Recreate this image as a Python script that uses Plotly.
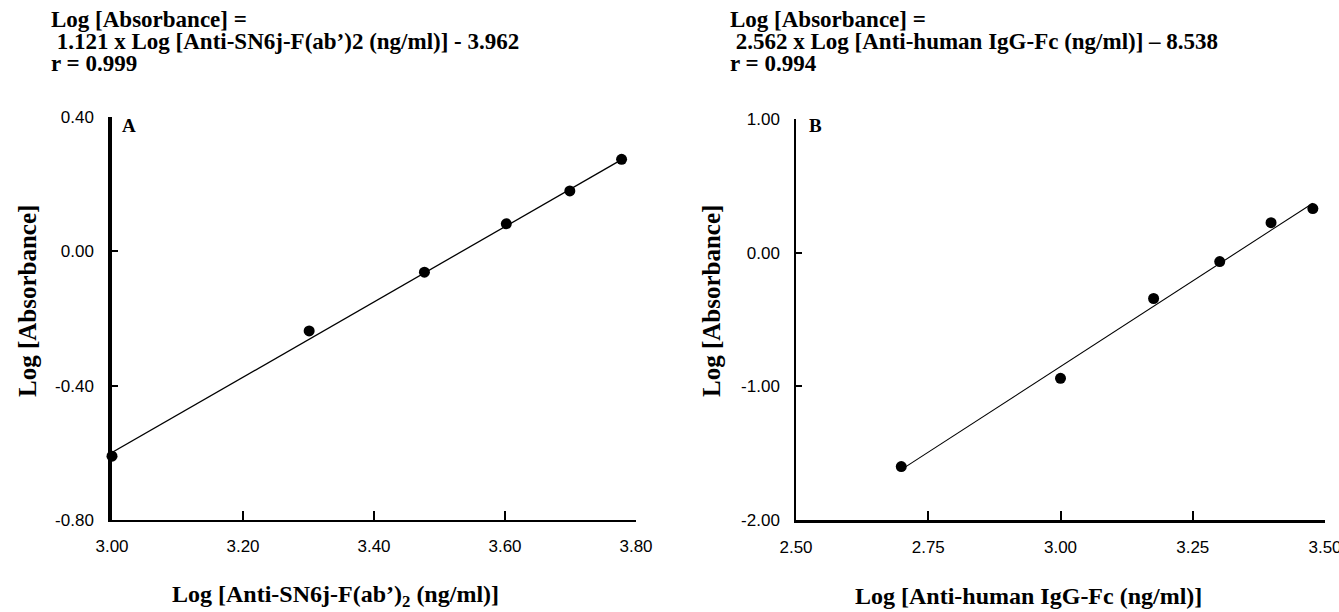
import plotly.graph_objects as go

# ---------------- data ----------------
a_x = [3.000, 3.301, 3.477, 3.602, 3.699, 3.778]
a_y = [-0.61, -0.237, -0.062, 0.082, 0.180, 0.274]
a_slope, a_intercept = 1.121, -3.962

b_x = [2.699, 3.000, 3.176, 3.301, 3.398, 3.477]
b_y = [-1.60, -0.94, -0.343, -0.067, 0.224, 0.33]
b_slope, b_intercept = 2.562, -8.538

a_ticks_x = [3.00, 3.20, 3.40, 3.60, 3.80]
a_ticks_y = [-0.80, -0.40, 0.00, 0.40]
b_ticks_x = [2.50, 2.75, 3.00, 3.25, 3.50]
b_ticks_y = [-2.00, -1.00, 0.00, 1.00]

a_title = ["Log [Absorbance] =",
           " 1.121 x Log [Anti-SN6j-F(ab\u2019)2 (ng/ml)] - 3.962",
           "r = 0.999"]
b_title = ["Log [Absorbance] =",
           " 2.562 x Log [Anti-human IgG-Fc (ng/ml)] \u2013 8.538",
           "r = 0.994"]
a_xlabel = "Log [Anti-SN6j-F(ab\u2019)<sub>2</sub> (ng/ml)]"
b_xlabel = "Log [Anti-human IgG-Fc (ng/ml)]"
ylabel = "Log [Absorbance]"

W, H = 1339, 612
SERIF = "Liberation Serif, Times New Roman, serif"
TICKF = "Liberation Sans Narrow, Arial Narrow, Liberation Sans, sans-serif"

def fx(px):
    return px / W

def fy(py):
    return 1 - py / H

fig = go.Figure()

def fit_line(xs, slope, intercept):
    x0, x1 = min(xs), max(xs)
    return [x0, x1], [slope * x0 + intercept, slope * x1 + intercept]

lx, ly = fit_line(a_x, a_slope, a_intercept)
fig.add_trace(go.Scatter(x=lx, y=ly, mode="lines", line=dict(color="black", width=1.3),
                         xaxis="x", yaxis="y", showlegend=False, hoverinfo="skip"))
fig.add_trace(go.Scatter(x=a_x, y=a_y, mode="markers", marker=dict(color="black", size=11),
                         xaxis="x", yaxis="y", showlegend=False, cliponaxis=False))

lx, ly = fit_line(b_x, b_slope, b_intercept)
fig.add_trace(go.Scatter(x=lx, y=ly, mode="lines", line=dict(color="black", width=1.1),
                         xaxis="x2", yaxis="y2", showlegend=False, hoverinfo="skip"))
fig.add_trace(go.Scatter(x=b_x, y=b_y, mode="markers", marker=dict(color="black", size=11),
                         xaxis="x2", yaxis="y2", showlegend=False, cliponaxis=False))

tickfont = dict(family=TICKF, size=17, color="black")

def xaxis(dom, anchor, rng, ticks, width):
    return dict(domain=dom, anchor=anchor, range=rng, tickvals=ticks,
                ticktext=[f"{t:.2f}" for t in ticks], showgrid=False, zeroline=False,
                showline=True, linecolor="black", linewidth=width, ticks="inside",
                ticklen=9, tickwidth=2, tickcolor="black", tickfont=tickfont,
                ticklabelstandoff=10, ticklabeloverflow="allow",
                fixedrange=True, automargin=False)

def yaxis(dom, anchor, rng, ticks, width):
    return dict(domain=dom, anchor=anchor, range=rng, tickvals=ticks,
                ticktext=[f"{t:.2f}" for t in ticks], showgrid=False, zeroline=False,
                showline=True, linecolor="black", linewidth=width, ticks="inside",
                ticklen=6, tickwidth=2, tickcolor="black", tickfont=tickfont,
                ticklabelstandoff=11, ticklabeloverflow="allow",
                fixedrange=True, automargin=False)

fig.update_layout(
    width=W, height=H,
    margin=dict(l=0, r=0, t=0, b=0, pad=0, autoexpand=False),
    paper_bgcolor="white", plot_bgcolor="white",
    xaxis=xaxis([fx(112), fx(636)], "y", [3.0, 3.8], a_ticks_x, 2),
    yaxis=yaxis([fy(520), fy(117)], "x", [-0.8, 0.4], a_ticks_y, 3.5),
    xaxis2=xaxis([fx(796), fx(1325)], "y2", [2.5, 3.5], b_ticks_x, 2.5),
    yaxis2=yaxis([fy(520), fy(119)], "x2", [-2.0, 1.0], b_ticks_y, 1.5),
)

TF = dict(family=SERIF, size=23, color="black", weight="bold")
XF = dict(family=SERIF, size=24, color="black", weight="bold")
YF = dict(family=SERIF, size=25, color="black", weight="bold")
anns = []
for i, t in enumerate(a_title):
    anns.append(dict(text=t, x=fx(49), y=fy(19 + 22.5 * i), xref="paper", yref="paper",
                     xanchor="left", yanchor="middle", showarrow=False, font=TF))
for i, t in enumerate(b_title):
    anns.append(dict(text=t, x=fx(728), y=fy(19 + 22.5 * i), xref="paper", yref="paper",
                     xanchor="left", yanchor="middle", showarrow=False, font=TF))
for lab, xc in [(a_xlabel, 335), (b_xlabel, 1028)]:
    anns.append(dict(text=lab, x=fx(xc), y=fy(596), xref="paper", yref="paper",
                     xanchor="center", yanchor="middle", showarrow=False, font=XF))
for xc in [27, 711]:
    anns.append(dict(text=ylabel, x=fx(xc), y=fy(301), xref="paper", yref="paper",
                     xanchor="center", yanchor="middle", showarrow=False, textangle=-90,
                     font=YF))
for lab, xc in [("A", 129), ("B", 815)]:
    anns.append(dict(text=lab, x=fx(xc), y=fy(126), xref="paper", yref="paper",
                     xanchor="center", yanchor="middle", showarrow=False,
                     font=dict(family=SERIF, size=19, color="black", weight="bold")))
fig.update_layout(annotations=anns)

fig.write_html("out.html", config={"displayModeBar": False},
               post_script="document.body.style.margin='0';document.body.style.overflow='hidden';")
